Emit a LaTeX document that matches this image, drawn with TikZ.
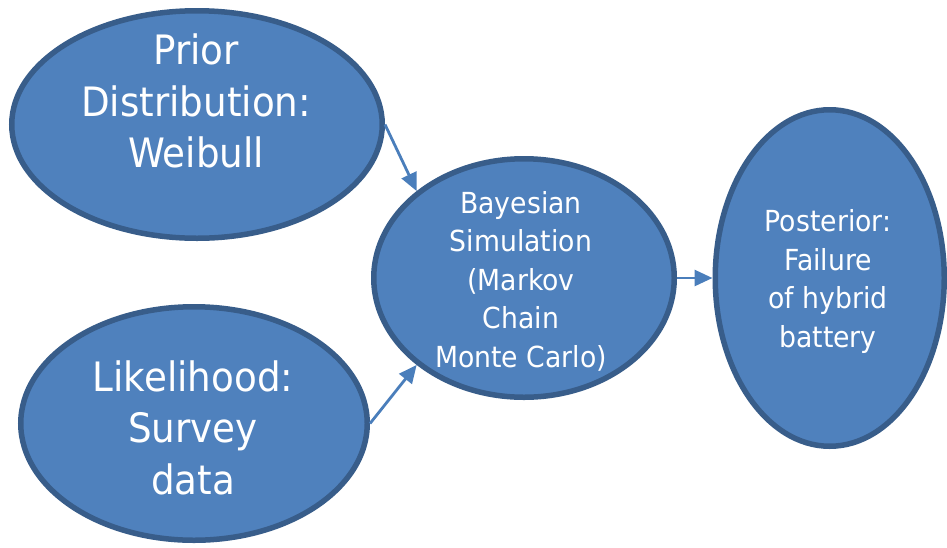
\documentclass[tikz,border=0pt]{standalone}
\usepackage{fontspec}
\setmainfont{DejaVu Sans}[FakeStretch=0.92]
\usetikzlibrary{shapes.geometric,arrows.meta}
\definecolor{bubblefill}{HTML}{4F81BD}
\definecolor{bubbleline}{HTML}{385D8A}
\definecolor{linkcolor}{HTML}{4A7EBB}
\begin{document}
\begin{tikzpicture}[x=1pt,y=1pt,
  bubble/.style={ellipse, draw=bubbleline, fill=bubblefill, line width=5.5pt, inner sep=0pt},
  bigtext/.style={text=white, align=center, anchor=base, inner sep=0pt,
    font=\fontsize{40.5}{51.5}\selectfont},
  smalltext/.style={text=white, align=center, anchor=base, inner sep=0pt,
    font=\fontsize{29}{38.5}\selectfont},
  link/.style={draw=linkcolor, line width=2.8pt, -{Triangle[length=18pt,width=16pt]}}]
\useasboundingbox (0,0) rectangle (947,-547);

% the four stages
\node[bubble, minimum width=370.5pt, minimum height=227.5pt] (prior) at (197,-124.5) {};
\node[bubble, minimum width=346.5pt, minimum height=233.5pt] (lik) at (194,-423.5) {};
\node[bubble, minimum width=300.5pt, minimum height=238.5pt] (bayes) at (524,-278) {};
\node[bubble, minimum width=229pt, minimum height=336.5pt] (post) at (829.75,-278) {};

% labels (anchored on the baseline of their last line)
\node[bigtext] (priortxt) at (196,-167.5) {Prior\\Distribution:\\Weibull};
\node[bigtext] (liktxt) at (193,-494) {Likelihood:\\Survey\\data};
\node[smalltext] (bayestxt) at (521,-367) {Bayesian\\Simulation\\(Markov\\Chain\\Monte Carlo)};
\node[smalltext] (posttxt) at (828,-347) {Posterior:\\Failure\\of hybrid\\battery};

% flow
\draw[link] (prior.east) -- (bayes.141.7);
\draw[link] (lik.east) -- (bayes.219.2);
\draw[link] (bayes.east) -- (post.west);
\end{tikzpicture}
\end{document}
